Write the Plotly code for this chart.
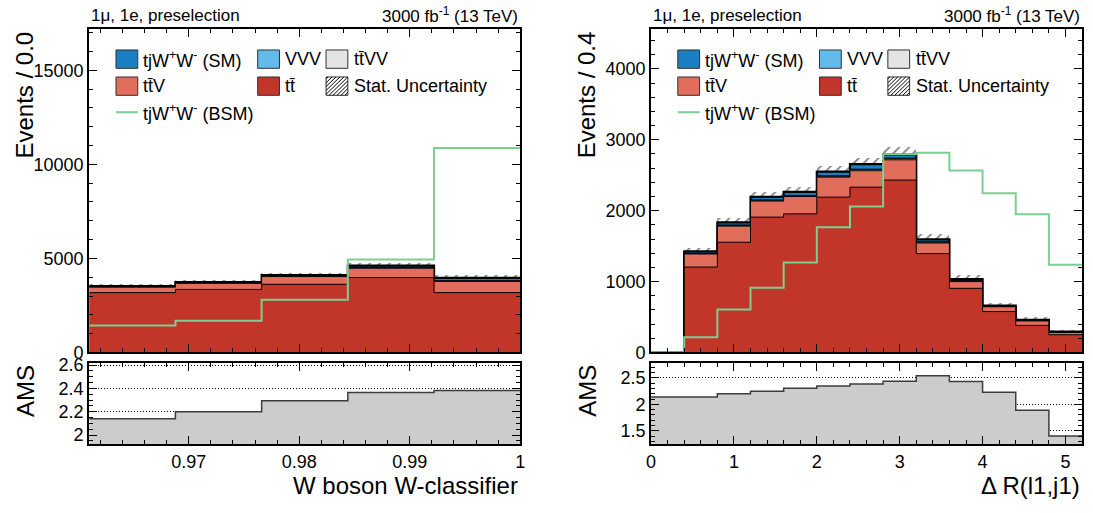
import plotly.graph_objects as go

W, H = 1093, 513
FONT = "Liberation Sans, Arial, sans-serif"

# ---------------- data: left (W-classifier) ----------------
edges_L = [0.9610, 0.9688, 0.9766, 0.9844, 0.9922, 1.0]
tt_L = [3180, 3350, 3624, 3983, 3180]
ttV_L = [290, 325, 410, 495, 598]
ttVV_L = [15, 15, 18, 25, 20]
VVV_L = [10, 10, 12, 15, 12]
tjWW_L = [35, 40, 45, 100, 150]
err_L = [100, 105, 110, 120, 120]
bsm_L = [1430, 1690, 2805, 4940, 10870]
ams_L = [2.14, 2.20, 2.295, 2.365, 2.382]

# ---------------- data: right (Delta R) ----------------
edges_R = [0.0, 0.4, 0.8, 1.2, 1.6, 2.0, 2.4, 2.8, 3.2, 3.6, 4.0, 4.4, 4.8, 5.2]
tt_R = [0, 1205, 1555, 1909, 1955, 2191, 2332, 2432, 1395, 905, 577, 382, 250]
ttV_R = [0, 185, 227, 227, 245, 282, 232, 286, 150, 95, 68, 63, 32]
ttVV_R = [0, 6, 10, 10, 10, 12, 14, 15, 10, 8, 4, 4, 3]
VVV_R = [0, 4, 6, 6, 7, 8, 8, 8, 5, 4, 3, 2, 2]
tjWW_R = [0, 25, 38, 44, 48, 58, 72, 50, 35, 22, 9, 8, 6]
err_R = [0, 50, 62, 68, 70, 80, 88, 98, 70, 52, 40, 32, 26]
bsm_R = [0, 214, 605, 914, 1268, 1768, 2059, 2795, 2818, 2568, 2245, 1950, 1236]
ams_R = [2.139, 2.139, 2.20, 2.248, 2.303, 2.345, 2.382, 2.436, 2.539, 2.43, 2.23, 1.89, 1.406]

# ---------------- styles ----------------
C_TJWW = "rgb(27,127,195)"
C_VVV = "rgb(98,187,235)"
C_TTVV = "rgb(228,228,228)"
C_TTV = "rgb(224,110,90)"
C_TT = "rgb(193,54,41)"
C_BSM = "rgb(125,207,145)"
C_AMS = "rgb(204,204,204)"


def X(px):
    return px / W


def Y(py):
    return 1 - py / H


PANELS = {
    "L": dict(x0=85, x1=520),
    "R": dict(x0=652, x1=1087),
}
MAIN_Y = (22, 357)
AMS_Y = (368, 452)


def step(edges, vals):
    return list(edges), list(vals) + [vals[-1]]


fig = go.Figure()


def add_panel(edges, tt, ttV, ttVV, VVV, tjWW, err, bsm, ams, xa, ya, xa2, ya2):
    c1 = list(tt)
    c2 = [a + b for a, b in zip(c1, ttV)]
    c3 = [a + b for a, b in zip(c2, ttVV)]
    c4 = [a + b for a, b in zip(c3, VVV)]
    c5 = [a + b for a, b in zip(c4, tjWW)]
    layers = [(c5, C_TJWW, 2.2), (c4, C_VVV, 1), (c3, C_TTVV, 1), (c2, C_TTV, 1), (c1, C_TT, 1)]
    for vals, col, lw in layers:
        xs, ys = step(edges, vals)
        fig.add_trace(go.Scatter(x=xs, y=ys, mode="lines", line=dict(shape="hv", color="black", width=lw),
                                 fill="tozeroy", fillcolor=col, xaxis=xa, yaxis=ya,
                                 showlegend=False, hoverinfo="skip"))
    centers = [(edges[i] + edges[i + 1]) / 2 for i in range(len(edges) - 1)]
    widths = [edges[i + 1] - edges[i] for i in range(len(edges) - 1)]
    fig.add_trace(go.Bar(x=centers, y=[2 * e for e in err], base=[t - e for t, e in zip(c5, err)],
                         width=widths, xaxis=xa, yaxis=ya, showlegend=False, hoverinfo="skip",
                         marker=dict(color="rgba(0,0,0,0)", line=dict(width=0),
                                     pattern=dict(shape="/", fgcolor="black", size=7, solidity=0.24))))
    xs, ys = step(edges, bsm)
    fig.add_trace(go.Scatter(x=xs, y=ys, mode="lines", line=dict(shape="hv", color=C_BSM, width=2),
                             xaxis=xa, yaxis=ya, showlegend=False, hoverinfo="skip"))
    xs, ys = step(edges, ams)
    fig.add_trace(go.Scatter(x=xs, y=ys, mode="lines", line=dict(shape="hv", color="rgb(60,60,60)", width=1.5),
                             fill="tozeroy", fillcolor=C_AMS, xaxis=xa2, yaxis=ya2,
                             showlegend=False, hoverinfo="skip"))


add_panel(edges_L, tt_L, ttV_L, ttVV_L, VVV_L, tjWW_L, err_L, bsm_L, ams_L, "x", "y", "x2", "y2")
add_panel(edges_R, tt_R, ttV_R, ttVV_R, VVV_R, tjWW_R, err_R, bsm_R, ams_R, "x3", "y3", "x4", "y4")


def axis(**kw):
    d = dict(showline=True, linecolor="black", linewidth=2, mirror="ticks", ticks="inside",
             ticklen=8, tickwidth=1, tickcolor="black", showgrid=False, zeroline=False,
             tickfont=dict(family=FONT, size=18, color="black"),
             minor=dict(ticks="inside", ticklen=4, tickwidth=1, tickcolor="black"))
    minor = kw.pop("minor", None)
    d.update(kw)
    if minor:
        d["minor"].update(minor)
    return d


dom_main = [Y(MAIN_Y[1]), Y(MAIN_Y[0])]
dom_ams = [Y(AMS_Y[1]), Y(AMS_Y[0])]
domL = [X(PANELS["L"]["x0"]), X(PANELS["L"]["x1"])]
domR = [X(PANELS["R"]["x0"]), X(PANELS["R"]["x1"])]
grid = dict(showgrid=True, gridcolor="black", griddash="1px,2px", gridwidth=1)

fig.update_layout(
    width=W, height=H, margin=dict(l=0, r=0, t=0, b=0),
    paper_bgcolor="white", plot_bgcolor="white", barmode="overlay", bargap=0,
    showlegend=False,
    xaxis=axis(domain=domL, anchor="y", range=[edges_L[0], edges_L[-1]], showticklabels=False,
               tickmode="linear", tick0=0.97, dtick=0.01, minor=dict(tick0=0.96, dtick=0.002)),
    yaxis=axis(domain=dom_main, anchor="x", range=[0, 17180], tickmode="linear", tick0=0, dtick=5000,
               tickformat="d", minor=dict(tick0=0, dtick=1000)),
    xaxis2=axis(domain=domL, anchor="y2", range=[edges_L[0], edges_L[-1]],
                tickmode="linear", tick0=0.97, dtick=0.01, minor=dict(tick0=0.96, dtick=0.002)),
    yaxis2=axis(domain=dom_ams, anchor="x2", range=[1.923, 2.617], tickmode="linear", tick0=2, dtick=0.2,
                minor=dict(tick0=2, dtick=0.05), **grid),
    xaxis3=axis(domain=domR, anchor="y3", range=[0, 5.2], showticklabels=False,
                tickmode="linear", tick0=0, dtick=1, minor=dict(tick0=0, dtick=0.2)),
    yaxis3=axis(domain=dom_main, anchor="x3", range=[0, 4560], tickmode="linear", tick0=0, dtick=1000,
                tickformat="d", minor=dict(tick0=0, dtick=200)),
    xaxis4=axis(domain=domR, anchor="y4", range=[0, 5.2],
                tickmode="linear", tick0=0, dtick=1, minor=dict(tick0=0, dtick=0.2)),
    yaxis4=axis(domain=dom_ams, anchor="x4", range=[1.251, 2.778], tickmode="linear", tick0=1.5, dtick=0.5,
                minor=dict(tick0=1.5, dtick=0.1), **grid),
)

ann = []
shapes = []


def text(x, y, s, size, xanchor="left", yanchor="middle", angle=0):
    ann.append(dict(x=X(x), y=Y(y), xref="paper", yref="paper", text=s, showarrow=False,
                    xanchor=xanchor, yanchor=yanchor, textangle=angle,
                    font=dict(family=FONT, size=size, color="black")))


BOX_OFF = [27, 170, 239]
TXT_OFF = [52, 196, 265]
ROWS = [53, 81, 108]
BW, BH = 22, 19


def legend_box(px0, yc, color):
    shapes.append(dict(type="rect", xref="paper", yref="paper", x0=X(px0), x1=X(px0 + BW),
                       y0=Y(yc + BH / 2), y1=Y(yc - BH / 2), fillcolor=color,
                       line=dict(color="rgb(50,50,50)", width=1)))


def legend_hatch(px0, yc):
    legend_box(px0, yc, "white")
    bottom = yc + BH / 2
    for k in range(-BH + 2, BW, 4):
        xs0 = max(k, 0)
        xs1 = min(BW, BH + k)
        if xs1 <= xs0:
            continue
        shapes.append(dict(type="line", xref="paper", yref="paper",
                           x0=X(px0 + xs0), y0=Y(bottom - (xs0 - k)),
                           x1=X(px0 + xs1), y1=Y(bottom - (xs1 - k)),
                           line=dict(color="black", width=1)))


for key, ylab, xlab in [("L", "Events / 0.0", "W boson W-classifier"), ("R", "Events / 0.4", "Δ R(l1,j1)")]:
    x0 = PANELS[key]["x0"]
    x1 = PANELS[key]["x1"]
    text(x0, 8, "1μ, 1e, preselection", 17)
    text(x1, 7, "3000 fb<sup>-1</sup> (13 TeV)", 17, xanchor="right")
    text(x0 - 65, MAIN_Y[0], ylab, 24, xanchor="center", yanchor="top", angle=-90)
    text(x0 - 65, AMS_Y[0], "AMS", 24, xanchor="center", yanchor="top", angle=-90)
    text(x1, 495, xlab, 24, xanchor="right")
    # legend
    legend_box(x0 + BOX_OFF[0], ROWS[0], C_TJWW)
    text(x0 + TXT_OFF[0], ROWS[0], "tjW<sup>+</sup>W<sup>-</sup> (SM)", 18)
    legend_box(x0 + BOX_OFF[1], ROWS[0], C_VVV)
    text(x0 + TXT_OFF[1], ROWS[0], "VVV", 18)
    legend_box(x0 + BOX_OFF[2], ROWS[0], C_TTVV)
    text(x0 + TXT_OFF[2], ROWS[0], "tt\u0304VV", 18)
    legend_box(x0 + BOX_OFF[0], ROWS[1], C_TTV)
    text(x0 + TXT_OFF[0], ROWS[1], "tt\u0304V", 18)
    legend_box(x0 + BOX_OFF[1], ROWS[1], C_TT)
    text(x0 + TXT_OFF[1], ROWS[1], "tt\u0304", 18)
    legend_hatch(x0 + BOX_OFF[2], ROWS[1])
    text(x0 + TXT_OFF[2], ROWS[1], "Stat. Uncertainty", 18)
    shapes.append(dict(type="line", xref="paper", yref="paper", x0=X(x0 + BOX_OFF[0]), x1=X(x0 + BOX_OFF[0] + BW),
                       y0=Y(ROWS[2]), y1=Y(ROWS[2]), line=dict(color=C_BSM, width=2)))
    text(x0 + TXT_OFF[0], ROWS[2], "tjW<sup>+</sup>W<sup>-</sup> (BSM)", 18)

fig.update_layout(annotations=ann, shapes=shapes)
fig.write_html("out.html")
